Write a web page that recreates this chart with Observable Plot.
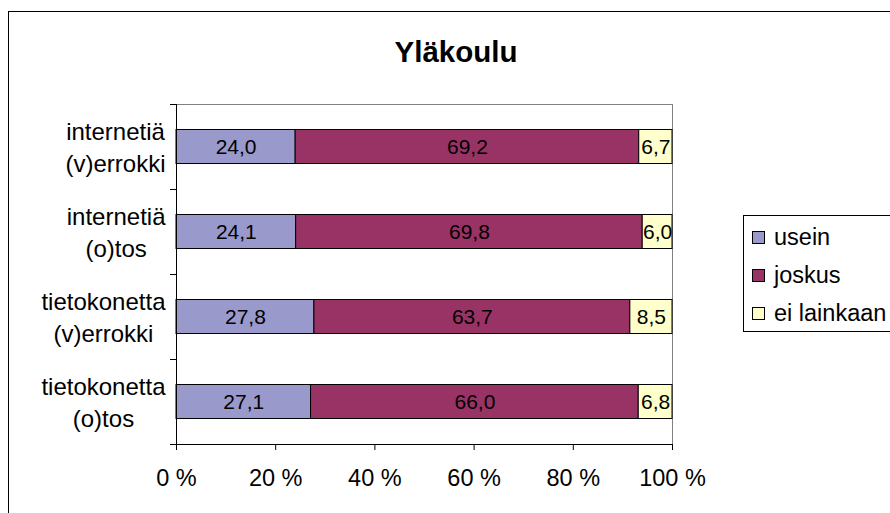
<!DOCTYPE html>
<html>
<head>
<meta charset="utf-8">
<script src="https://cdn.jsdelivr.net/npm/d3@7"></script>
<script src="https://cdn.jsdelivr.net/npm/@observablehq/plot@0.6"></script>
<style>
  html, body { margin: 0; padding: 0; background: #fff; overflow: hidden; }
  #wrap { position: relative; width: 890px; height: 513px; overflow: hidden; font-family: "Liberation Sans", Arial, sans-serif; }
  #border { position: absolute; left: 8px; top: 11px; width: 1000px; height: 1000px; border: 1px solid #000; box-sizing: border-box; }
  #title { position: absolute; left: 0; top: 35px; width: 912px; text-align: center; font-weight: bold; font-size: 29.5px; line-height: 34px; color: #000; }
  #chart { position: absolute; left: 0; top: 0; }
  #legend { position: absolute; left: 743px; top: 215px; width: 200px; height: 117px; border: 1px solid #000; box-sizing: border-box; background: #fff; }
  .item { position: absolute; left: 8px; height: 28px; line-height: 28px; font-size: 23.5px; color: #000; white-space: nowrap; }
  .sw { display: inline-block; width: 11px; height: 11px; border: 1px solid #000; margin-right: 9px; vertical-align: middle; position: relative; top: -1px; }
</style>
</head>
<body>
<div id="wrap">
  <div id="border"></div>
  <div id="title"></div>
  <div id="chart"></div>
  <div id="legend"></div>
</div>
<script>
const titleText = "Yläkoulu";
const categories = [
  ["internetiä", "(v)errokki"],
  ["internetiä", "(o)tos"],
  ["tietokonetta", "(v)errokki"],
  ["tietokonetta", "(o)tos"]
];
const seriesNames = ["usein", "joskus", "ei lainkaan"];
const seriesColors = ["#9999CC", "#993366", "#FFFFCC"];
const usein = [24.0, 24.1, 27.8, 27.1];
const joskus = [69.2, 69.8, 63.7, 66.0];
const eiLainkaan = [6.7, 6.0, 8.5, 6.8];
const xTicks = [0, 0.2, 0.4, 0.6, 0.8, 1.0];

const seriesValues = [usein, joskus, eiLainkaan];
const rows = [];
categories.forEach((c, i) => {
  const vals = seriesValues.map(s => s[i]);
  const total = d3.sum(vals);
  let acc = 0;
  vals.forEach((v, j) => {
    rows.push({i, series: seriesNames[j], value: v, x1: acc / total, x2: (acc + v) / total});
    acc += v;
  });
});

const fmt = v => v.toFixed(1).replace(".", ",");

// measure label block widths so lines are centred within a right-aligned block (as in the original)
const catFont = 24;
const ctx = document.createElement("canvas").getContext("2d");
ctx.font = catFont + "px 'Liberation Sans', Arial, sans-serif";
const catMarks = categories.map((c, i) => {
  const w = d3.max(c, s => ctx.measureText(s).width);
  return Plot.text([{i, label: c.join("\n")}], {
    frameAnchor: "left", y: d => d.i + 0.5, text: "label", textAnchor: "middle",
    dx: -(11 + w / 2), dy: -1, lineHeight: 1.33, fontSize: catFont, fill: "#000"
  });
});

const plot = Plot.plot({
  width: 890,
  height: 513,
  marginLeft: 176,
  marginRight: 218,
  marginTop: 104,
  marginBottom: 69,
  style: {fontFamily: "'Liberation Sans', Arial, sans-serif", fontSize: "23px", color: "#000", background: "transparent"},
  x: {domain: [0, 1]},
  y: {domain: [0, categories.length], reverse: true},
  color: {domain: seriesNames, range: seriesColors},
  marks: [
    Plot.frame({stroke: "#808080"}),
    Plot.rectX(rows, {x1: "x1", x2: "x2", y1: d => d.i + 0.3, y2: d => d.i + 0.7, fill: "series", stroke: "#000", strokeWidth: 1}),
    Plot.text(rows, {x: d => (d.x1 + d.x2) / 2, y: d => d.i + 0.5, text: d => fmt(d.value), fill: "#000", fontSize: 21}),
    Plot.ruleX([0], {stroke: "#000"}),
    Plot.ruleY([categories.length], {stroke: "#000"}),
    Plot.axisX({anchor: "bottom", ticks: xTicks, tickSize: 6, tickPadding: 19, tickFormat: d => Math.round(d * 100) + " %", fontSize: 23.5, label: null, stroke: "#000"}),
    Plot.axisY({anchor: "left", ticks: d3.range(categories.length + 1), tickSize: 6, tickFormat: () => "", label: null, stroke: "#000"}),
    ...catMarks
  ]
});
document.getElementById("chart").appendChild(plot);
document.getElementById("title").textContent = titleText;

const legend = document.getElementById("legend");
seriesNames.forEach((name, j) => {
  const it = document.createElement("div");
  it.className = "item";
  it.style.top = (7 + j * 38) + "px";
  const sw = document.createElement("span");
  sw.className = "sw";
  sw.style.background = seriesColors[j];
  it.appendChild(sw);
  it.appendChild(document.createTextNode(name));
  legend.appendChild(it);
});
</script>
</body>
</html>
